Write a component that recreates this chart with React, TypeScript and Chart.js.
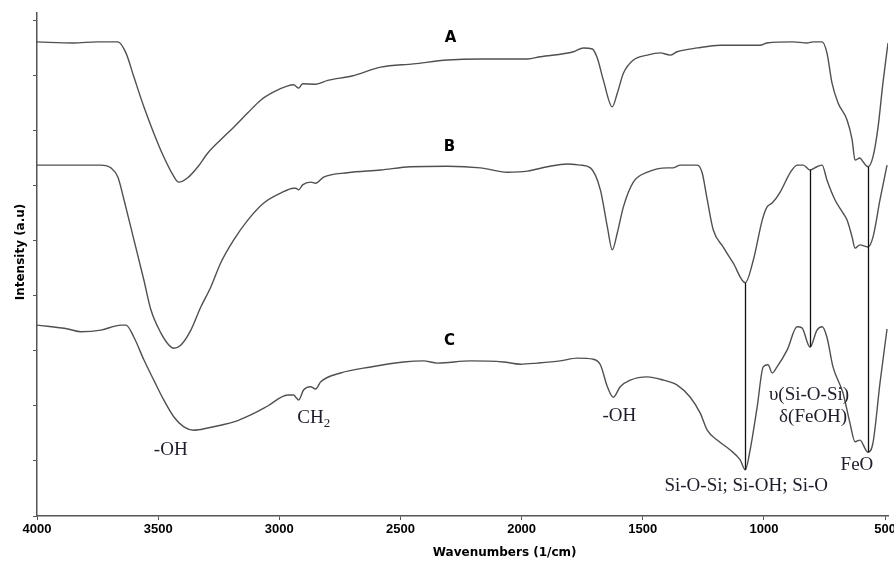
import React, { useEffect, useRef } from "react";
import { Chart, registerables } from "chart.js";

Chart.register(...registerables);

// FTIR spectra, wavenumber (1/cm) vs. intensity (a.u.)
const WAVE_A = [4000, 3850, 3750, 3666, 3633, 3600, 3559, 3518, 3477, 3439, 3415, 3378, 3336, 3295, 3242, 3188, 3130, 3077, 3023, 2965, 2941, 2920, 2904, 2850, 2800, 2700, 2582, 2446, 2306, 2170, 1976, 1923, 1786, 1745, 1708, 1688, 1663, 1626, 1605, 1580, 1539, 1481, 1428, 1387, 1358, 1275, 1181, 1127, 1016, 987, 880, 822, 797, 760, 740, 719, 694, 657, 636, 624, 604, 591, 571, 550, 529, 509, 488];
const INT_A = [8.62, 8.6, 8.62, 8.62, 8.42, 7.98, 7.44, 6.96, 6.53, 6.2, 6.07, 6.15, 6.35, 6.6, 6.84, 7.07, 7.33, 7.56, 7.71, 7.82, 7.84, 7.78, 7.86, 7.85, 7.92, 8.0, 8.16, 8.22, 8.29, 8.31, 8.31, 8.35, 8.44, 8.51, 8.49, 8.33, 7.93, 7.44, 7.69, 8.05, 8.29, 8.38, 8.42, 8.38, 8.44, 8.51, 8.56, 8.56, 8.56, 8.6, 8.62, 8.6, 8.62, 8.62, 8.42, 7.87, 7.51, 7.2, 6.84, 6.47, 6.51, 6.44, 6.35, 6.53, 7.07, 7.87, 8.6];

const WAVE_B = [4000, 3736, 3695, 3666, 3641, 3600, 3559, 3530, 3489, 3456, 3435, 3406, 3365, 3324, 3283, 3242, 3188, 3130, 3064, 2994, 2941, 2932, 2920, 2904, 2871, 2850, 2817, 2718, 2582, 2458, 2306, 2170, 2059, 1976, 1894, 1811, 1758, 1716, 1675, 1646, 1626, 1605, 1580, 1539, 1481, 1399, 1374, 1345, 1275, 1255, 1234, 1209, 1168, 1127, 1077, 1044, 1007, 987, 966, 933, 892, 863, 838, 810, 781, 760, 740, 707, 674, 657, 636, 624, 604, 571, 550, 521, 492];
const INT_B = [6.38, 6.38, 6.33, 6.16, 5.75, 5.02, 4.29, 3.75, 3.33, 3.11, 3.05, 3.11, 3.38, 3.8, 4.16, 4.6, 5.02, 5.38, 5.69, 5.87, 5.96, 5.96, 5.93, 6.02, 6.07, 6.05, 6.16, 6.24, 6.29, 6.35, 6.36, 6.33, 6.25, 6.27, 6.35, 6.4, 6.38, 6.33, 5.93, 5.25, 4.84, 5.15, 5.62, 6.07, 6.25, 6.33, 6.33, 6.38, 6.38, 6.24, 5.75, 5.2, 4.89, 4.6, 4.24, 4.65, 5.38, 5.62, 5.69, 5.89, 6.24, 6.38, 6.38, 6.29, 6.35, 6.38, 6.11, 5.75, 5.51, 5.38, 5.07, 4.87, 4.93, 4.89, 5.07, 5.75, 6.38];

const WAVE_C = [4000, 3872, 3819, 3736, 3654, 3633, 3600, 3559, 3518, 3477, 3435, 3394, 3353, 3295, 3242, 3188, 3118, 3048, 2965, 2941, 2932, 2920, 2900, 2871, 2850, 2829, 2747, 2623, 2487, 2405, 2347, 2211, 2075, 2005, 1935, 1840, 1770, 1704, 1675, 1646, 1622, 1593, 1552, 1481, 1415, 1358, 1304, 1263, 1234, 1193, 1139, 1098, 1077, 1057, 1028, 1003, 983, 966, 946, 904, 863, 843, 810, 781, 760, 740, 715, 674, 645, 624, 604, 571, 550, 521, 492];
const INT_C = [3.47, 3.4, 3.35, 3.38, 3.47, 3.47, 3.25, 2.84, 2.47, 2.11, 1.8, 1.62, 1.56, 1.6, 1.65, 1.71, 1.84, 2.0, 2.2, 2.2, 2.16, 2.11, 2.29, 2.35, 2.31, 2.44, 2.6, 2.71, 2.8, 2.82, 2.78, 2.82, 2.8, 2.76, 2.78, 2.82, 2.87, 2.85, 2.75, 2.35, 2.16, 2.35, 2.47, 2.53, 2.47, 2.38, 2.16, 1.87, 1.56, 1.38, 1.2, 1.02, 0.84, 1.2, 1.98, 2.71, 2.75, 2.6, 2.71, 3.02, 3.44, 3.42, 3.07, 3.38, 3.44, 3.25, 2.71, 2.24, 1.69, 1.35, 1.38, 1.16, 1.33, 2.42, 3.4];

const X_TICKS = [4000, 3500, 3000, 2500, 2000, 1500, 1000, 500];
const Y_TICKS = [0, 1, 2, 3, 4, 5, 6, 7, 8, 9];

// Curve names with the point they are written at (wavenumber, intensity)
const CURVE_NAMES = [
  { text: "A", wave: 2293, value: 8.69 },
  { text: "B", wave: 2298, value: 6.71 },
  { text: "C", wave: 2298, value: 3.18 },
];

// Band assignments
const BANDS = [
  { text: "-OH", wave: 3448, value: 1.2 },
  { text: "CH", sub: "2", wave: 2858, value: 1.78 },
  { text: "-OH", wave: 1597, value: 1.82 },
  { text: "Si-O-Si; Si-OH; Si-O", wave: 1073, value: 0.55 },
  { text: "\u03c5(Si-O-Si)", wave: 814, value: 2.2 },
  { text: "\u03b4(FeOH)", wave: 797, value: 1.8 },
  { text: "FeO", wave: 616, value: 0.93 },
];

// Guide lines joining the same band on two spectra
const GUIDES = [
  { wave: 1077, from: "B", to: "C" },
  { wave: 810, from: "B", to: "C" },
  { wave: 571, from: "A", to: "C" },
];

const SERIES: Record<string, [number[], number[]]> = {
  A: [WAVE_A, INT_A],
  B: [WAVE_B, INT_B],
  C: [WAVE_C, INT_C],
};

const valueAt = (name: string, wave: number) => {
  const [w, v] = SERIES[name];
  return v[w.indexOf(wave)];
};

const toPoints = (w: number[], v: number[]) => w.map((x, i) => ({ x, y: v[i] }));

const annotations = {
  id: "annotations",
  afterDatasetsDraw(chart: any) {
    const { ctx, scales } = chart;
    const x = scales.x;
    const y = scales.y;
    ctx.save();

    ctx.strokeStyle = "#111";
    ctx.lineWidth = 1.3;
    GUIDES.forEach((g) => {
      const px = Math.round(x.getPixelForValue(g.wave)) + 0.5;
      ctx.beginPath();
      ctx.moveTo(px, y.getPixelForValue(valueAt(g.from, g.wave)));
      ctx.lineTo(px, y.getPixelForValue(valueAt(g.to, g.wave)));
      ctx.stroke();
    });

    ctx.fillStyle = "#000";
    ctx.textAlign = "center";
    ctx.textBaseline = "middle";
    ctx.font = "bold 15px 'DejaVu Sans'";
    CURVE_NAMES.forEach((n) => {
      ctx.fillText(n.text, x.getPixelForValue(n.wave), y.getPixelForValue(n.value));
    });

    ctx.fillStyle = "#1e1e2a";
    BANDS.forEach((b) => {
      const cx = x.getPixelForValue(b.wave);
      const cy = y.getPixelForValue(b.value);
      if (b.sub) {
        ctx.font = "19px 'Liberation Serif'";
        const w1 = ctx.measureText(b.text).width;
        ctx.font = "13px 'Liberation Serif'";
        const w2 = ctx.measureText(b.sub).width;
        const left = cx - (w1 + w2) / 2;
        ctx.textAlign = "left";
        ctx.font = "19px 'Liberation Serif'";
        ctx.fillText(b.text, left, cy);
        ctx.font = "13px 'Liberation Serif'";
        ctx.fillText(b.sub, left + w1, cy + 5);
        ctx.textAlign = "center";
      } else {
        ctx.font = "19px 'Liberation Serif'";
        ctx.fillText(b.text, cx, cy);
      }
    });

    // axis titles
    ctx.fillStyle = "#000";
    ctx.font = "bold 12px 'DejaVu Sans'";
    ctx.fillText("Wavenumbers (1/cm)", x.getPixelForValue(2070), 553);
    ctx.translate(21, y.getPixelForValue(4.8));
    ctx.rotate(-Math.PI / 2);
    ctx.fillText("Intensity (a.u)", 0, 0);
    ctx.restore();
  },
};

export default function App() {
  const canvasRef = useRef<HTMLCanvasElement | null>(null);

  useEffect(() => {
    if (!canvasRef.current) return;
    const line = {
      borderColor: "#505050",
      borderWidth: 1.4,
      pointRadius: 0,
      fill: false,
      cubicInterpolationMode: "monotone" as const,
    };
    const axisGrid = {
      drawOnChartArea: false,
      drawTicks: true,
      tickLength: 4,
      color: "#555",
      lineWidth: 1,
    };
    const chart = new Chart(canvasRef.current, {
      type: "line",
      data: {
        datasets: [
          { label: "A", data: toPoints(WAVE_A, INT_A), ...line },
          { label: "B", data: toPoints(WAVE_B, INT_B), ...line },
          { label: "C", data: toPoints(WAVE_C, INT_C), ...line },
        ],
      },
      options: {
        animation: false,
        responsive: false,
        devicePixelRatio: 1,
        layout: { padding: { top: 13, right: 6, left: 0, bottom: 0 } },
        plugins: {
          legend: { display: false },
          tooltip: { enabled: false },
        },
        scales: {
          x: {
            type: "linear",
            reverse: true,
            min: 488,
            max: 4000,
            afterBuildTicks: (s: any) => {
              s.ticks = X_TICKS.map((value) => ({ value }));
            },
            afterFit: (s: any) => {
              s.height = 51;
              s.paddingLeft = 0;
              s.paddingRight = 0;
            },
            ticks: {
              autoSkip: false,
              maxRotation: 0,
              padding: 2,
              color: "#000",
              font: { family: "'Liberation Sans'", weight: "bold", size: 13 },
              callback: (v: any) => String(v),
            },
            grid: axisGrid,
            border: { color: "#555", width: 1.5 },
          },
          y: {
            type: "linear",
            min: 0,
            max: 9.145,
            afterBuildTicks: (s: any) => {
              s.ticks = Y_TICKS.map((value) => ({ value }));
            },
            afterFit: (s: any) => {
              s.width = 37;
            },
            ticks: { display: false },
            grid: axisGrid,
            border: { color: "#555", width: 1.5 },
          },
        },
      },
      plugins: [annotations],
    });
    return () => chart.destroy();
  }, []);

  return (
    <div style={{ position: "fixed", left: 0, top: 0, width: 894, height: 567, background: "#fff" }}>
      <canvas ref={canvasRef} width={894} height={567} style={{ display: "block", width: 894, height: 567 }} />
    </div>
  );
}
